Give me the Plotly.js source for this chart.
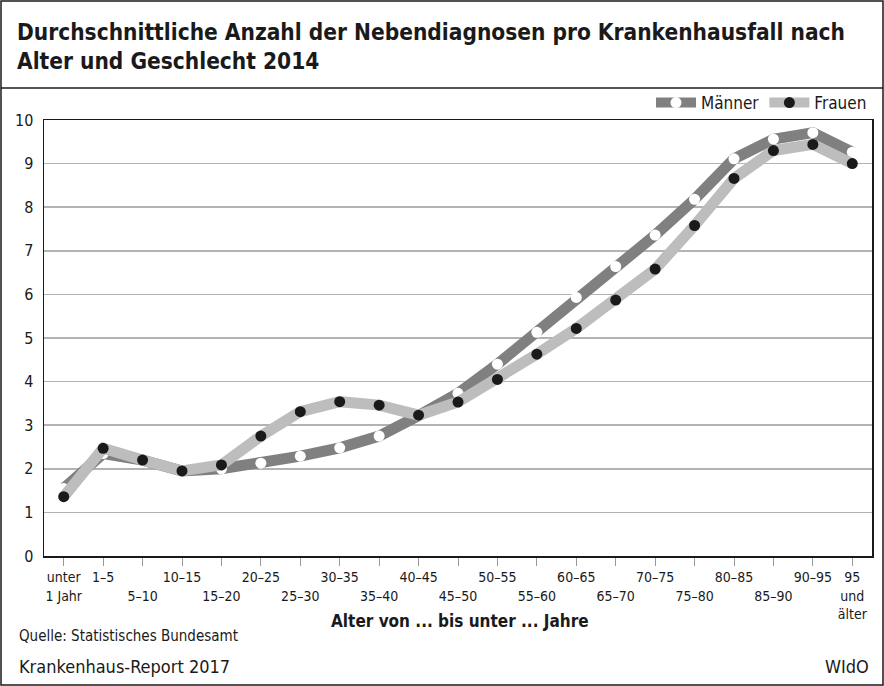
<!DOCTYPE html>
<html>
<head>
<meta charset="utf-8">
<script src="https://cdn.plot.ly/plotly-3.0.1.min.js"></script>
<style>
html,body{margin:0;padding:0;background:#fff;}
#chart{width:884px;height:686px;}
</style>
</head>
<body>
<div id="chart"></div>
<script>
// ---- data ----
const categories = ['unter 1 Jahr','1–5','5–10','10–15','15–20','20–25','25–30','30–35','35–40','40–45','45–50','50–55','55–60','60–65','65–70','70–75','75–80','80–85','85–90','90–95','95 und älter'];
const tickLabels = ['unter<br>1 Jahr','1–5','<br>5–10','10–15','<br>15–20','20–25','<br>25–30','30–35','<br>35–40','40–45','<br>45–50','50–55','<br>55–60','60–65','<br>65–70','70–75','<br>75–80','80–85','<br>85–90','90–95','95<br>und<br>älter'];
const maenner = [1.55,2.35,2.2,1.95,2.0,2.13,2.29,2.48,2.75,3.22,3.73,4.40,5.13,5.93,6.64,7.36,8.18,9.11,9.56,9.71,9.26];
const frauen  = [1.36,2.47,2.2,1.95,2.09,2.75,3.31,3.54,3.46,3.23,3.53,4.05,4.63,5.22,5.87,6.58,7.58,8.66,9.30,9.44,9.00];
const yTicks = [0,1,2,3,4,5,6,7,8,9,10];

const titleText = 'Durchschnittliche Anzahl der Nebendiagnosen pro Krankenhausfall nach<br>Alter und Geschlecht 2014';
const xTitle = 'Alter von ... bis unter ... Jahre';
const source = 'Quelle: Statistisches Bundesamt';
const report = 'Krankenhaus-Report 2017';
const brand = 'WIdO';

// ---- layout helpers ----
const W = 884, H = 686;
const L = 44, R = 872, T = 120, B = 556;
const px = x => (x - L) / (R - L);
const py = y => (B - y) / (B - T);
const FONT = '"DejaVu Sans Condensed", "Liberation Sans Narrow", sans-serif';

const idx = categories.map((c, i) => i);

const traces = [
  {
    x: idx, y: maenner, name: 'Männer', type: 'scatter', mode: 'lines+markers',
    line: {color: '#808080', width: 11},
    marker: {color: '#ffffff', size: 11, line: {width: 0}},
    cliponaxis: false
  },
  {
    x: idx, y: frauen, name: 'Frauen', type: 'scatter', mode: 'lines+markers',
    line: {color: '#bdbdbd', width: 11},
    marker: {color: '#1a1a1a', size: 11, line: {width: 0}},
    cliponaxis: false
  }
];

const layout = {
  width: W, height: H,
  margin: {l: L, r: W - R, t: T, b: H - B, pad: 0},
  paper_bgcolor: '#fff', plot_bgcolor: '#fff',
  font: {family: FONT, size: 15, color: '#1a1a1a'},
  title: {
    text: titleText,
    x: 17 / W, xanchor: 'left', xref: 'container',
    y: 1 - 40 / H, yanchor: 'middle', yref: 'container',
    font: {family: FONT, size: 22.5, color: '#1a1a1a', weight: 'bold'}
  },
  showlegend: true,
  legend: {
    orientation: 'h', x: 1, xanchor: 'right', y: py(103), yanchor: 'middle',
    font: {family: FONT, size: 17, color: '#1a1a1a'},
    bgcolor: 'rgba(0,0,0,0)', borderwidth: 0, traceorder: 'normal',
    itemwidth: 40
  },
  xaxis: {
    range: [-0.5, 20.5], tickmode: 'array', tickvals: idx, ticktext: tickLabels,
    ticks: 'outside', ticklen: 8, tickcolor: '#999', tickwidth: 1,
    showgrid: false, zeroline: false,
    showline: true, linecolor: '#1a1a1a', linewidth: 1.5, mirror: true,
    tickfont: {family: FONT, size: 14, color: '#1a1a1a'},
    tickangle: 0, fixedrange: true
  },
  yaxis: {
    range: [0, 10], tickmode: 'array', tickvals: yTicks,
    ticks: '', ticklabelstandoff: 6,
    showgrid: true, gridcolor: '#b3b3b3', gridwidth: 1.5,
    zeroline: false,
    showline: true, linecolor: '#1a1a1a', linewidth: 1.5, mirror: true,
    tickfont: {family: FONT, size: 16, color: '#1a1a1a'},
    fixedrange: true
  },
  annotations: [
    {text: '<b>' + xTitle + '</b>', xref: 'paper', yref: 'paper', x: px(460), y: py(621),
     xanchor: 'center', yanchor: 'middle', showarrow: false,
     font: {family: FONT, size: 17, color: '#1a1a1a'}},
    {text: source, xref: 'paper', yref: 'paper', x: px(17), y: py(636),
     xanchor: 'left', yanchor: 'middle', showarrow: false,
     font: {family: FONT, size: 15, color: '#1a1a1a'}},
    {text: report, xref: 'paper', yref: 'paper', x: px(17), y: py(667),
     xanchor: 'left', yanchor: 'middle', showarrow: false,
     font: {family: FONT, size: 18, color: '#1a1a1a'}},
    {text: brand, xref: 'paper', yref: 'paper', x: px(871), y: py(667),
     xanchor: 'right', yanchor: 'middle', showarrow: false,
     font: {family: FONT, size: 18, color: '#1a1a1a'}}
  ],
  shapes: [
    {type: 'rect', xref: 'paper', yref: 'paper', x0: px(1), x1: px(883), y0: py(1), y1: py(685),
     line: {color: '#1a1a1a', width: 1.5}, fillcolor: 'rgba(0,0,0,0)', layer: 'above'},
    {type: 'line', xref: 'paper', yref: 'paper', x0: px(1), x1: px(883), y0: py(88), y1: py(88),
     line: {color: '#1a1a1a', width: 1.5}, layer: 'above'}
  ]
};

Plotly.newPlot('chart', traces, layout, {displayModeBar: false, staticPlot: true});
</script>
</body>
</html>
